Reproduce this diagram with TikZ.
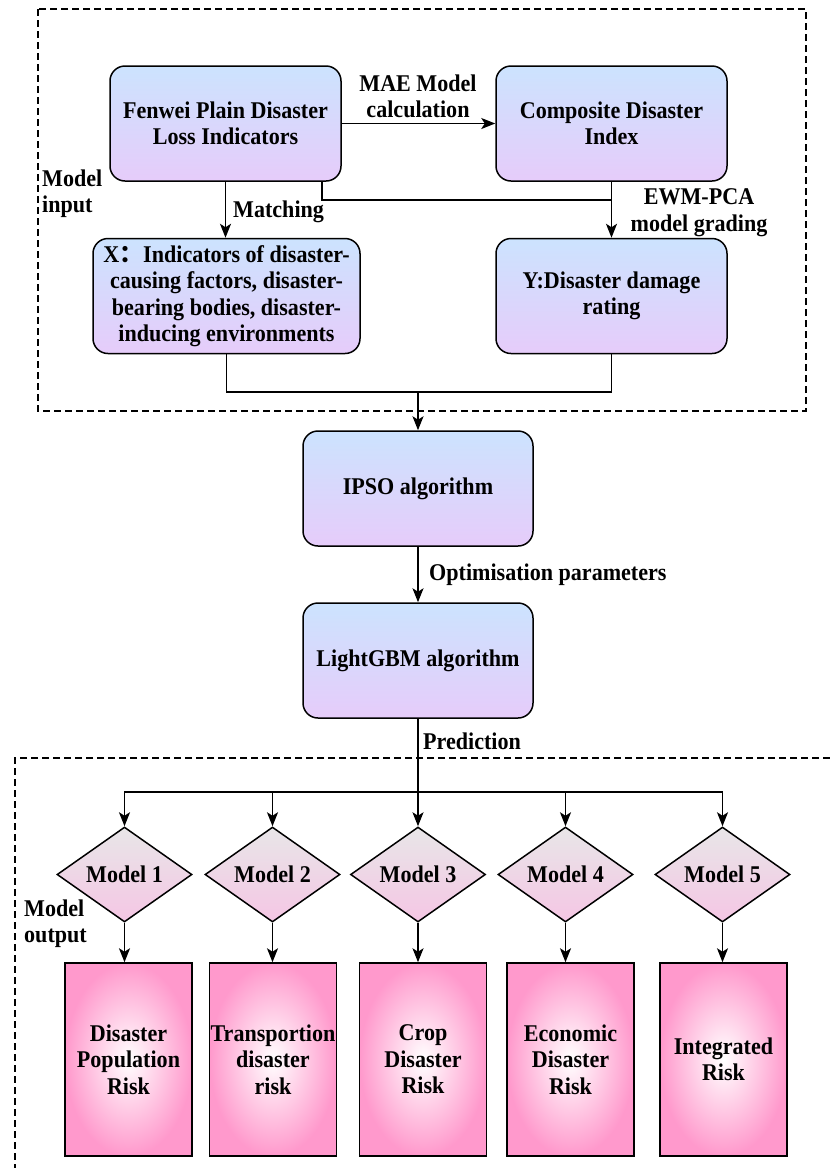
\documentclass[tikz,border=0pt]{standalone}
\usepackage{fontspec}
\setmainfont{Liberation Serif}[FakeStretch=0.92]
\newfontfamily\cjk{Noto Sans CJK SC}
\usetikzlibrary{arrows.meta,shapes.geometric}
\definecolor{boxblue}{HTML}{CCE3FE}
\definecolor{boxlilac}{HTML}{E6CCFA}
\definecolor{dmgray}{HTML}{E8E6E8}
\definecolor{dmpink}{HTML}{F5C6E4}
\definecolor{riskpink}{HTML}{FF99CC}

\tikzset{
  txt/.style={font=\fontsize{24}{26.5}\selectfont\bfseries, align=center, inner sep=0pt},
  procbox/.style={txt, draw, line width=1.5pt, rounded corners=15pt, top color=boxblue, bottom color=boxlilac, minimum width=231pt, minimum height=115pt},
  modeldm/.style={txt, diamond, draw, line width=1.5pt, top color=dmgray, bottom color=dmpink, minimum width=135pt, minimum height=95pt},
  riskbox/.style={txt, draw, line width=1.5pt, inner color=white, outer color=riskpink, minimum width=127pt, minimum height=193pt},
  flow/.style={line width=1.4pt, -{Stealth[length=14pt,width=11pt,inset=3.5pt]}},
  link/.style={line width=1.4pt},
  frame/.style={line width=1.2pt, dash pattern=on 7pt off 4pt}
}

\begin{document}
\begin{tikzpicture}[x=1pt,y=-1pt]
\useasboundingbox (0,0) rectangle (830,1168);
\draw[frame] (38,9) rectangle (806,411);
\draw[frame] (830,758) -- (15,758) -- (15,1168);

\node[procbox] (fenwei) at (225.5,123.5) {Fenwei Plain Disaster\\Loss Indicators};
\node[procbox] (cdi) at (611.5,123.5) {Composite Disaster\\Index};
\node[procbox, minimum width=267pt] (xind) at (226.5,296) {X{\cjk ：}Indicators of disaster-\\causing factors, disaster-\\bearing bodies, disaster-\\inducing environments};
\node[procbox] (yrate) at (611.5,296) {Y:Disaster damage\\rating};
\node[procbox, minimum width=230pt] (ipso) at (418,488.5) {IPSO algorithm};
\node[procbox, minimum width=230pt] (lgbm) at (418,660.5) {LightGBM algorithm};

\node[txt] (mae) at (418,96.5) {MAE Model\\calculation};
\node[txt, anchor=west] (match) at (233,212) {Matching};
\node[txt] (ewm) at (699,212.5) {EWM-PCA\\model grading};
\node[txt, align=left, anchor=west] (minput) at (42,193.5) {Model\\input};
\node[txt, anchor=west] (optim) at (429,575) {Optimisation parameters};
\node[txt, anchor=west] (pred) at (423,741) {Prediction};
\node[txt, align=left, anchor=west] (moutput) at (24,923.5) {Model\\output};

\coordinate (kink) at (611.5,200);
\coordinate (join) at (418,392);
\coordinate (split) at (418,792);

\draw[flow] (fenwei) -- (cdi);
\draw[flow] (fenwei.south) -- (fenwei.south |- xind.north);
\draw[link] ([xshift=96.5pt]fenwei.south) |- (kink);
\draw[flow] (cdi) -- (yrate);
\draw[link] (xind.south) |- (join) -| (yrate.south);
\draw[flow] (join) -- (ipso);
\draw[flow] (ipso) -- (lgbm);
\draw[link] (lgbm) -- (split);

\foreach \i/\dx/\rx/\risk in {1/124.5/128.5/{Disaster\\Population\\Risk},2/272.5/273/{Transportion\\disaster\\risk},3/418/423/{Crop\\Disaster\\Risk},4/565.5/570.5/{Economic\\Disaster\\Risk},5/722.5/723.5/{Integrated\\Risk}}{
  \node[modeldm] (dm\i) at (\dx,874.5) {Model \i};
  \node[riskbox] (rk\i) at (\rx,1059.5) {\risk};
  \draw[flow] (split) -| (dm\i.north);
  \draw[flow] (dm\i.south) -- (dm\i.south |- rk\i.north);
}
\end{tikzpicture}
\end{document}
